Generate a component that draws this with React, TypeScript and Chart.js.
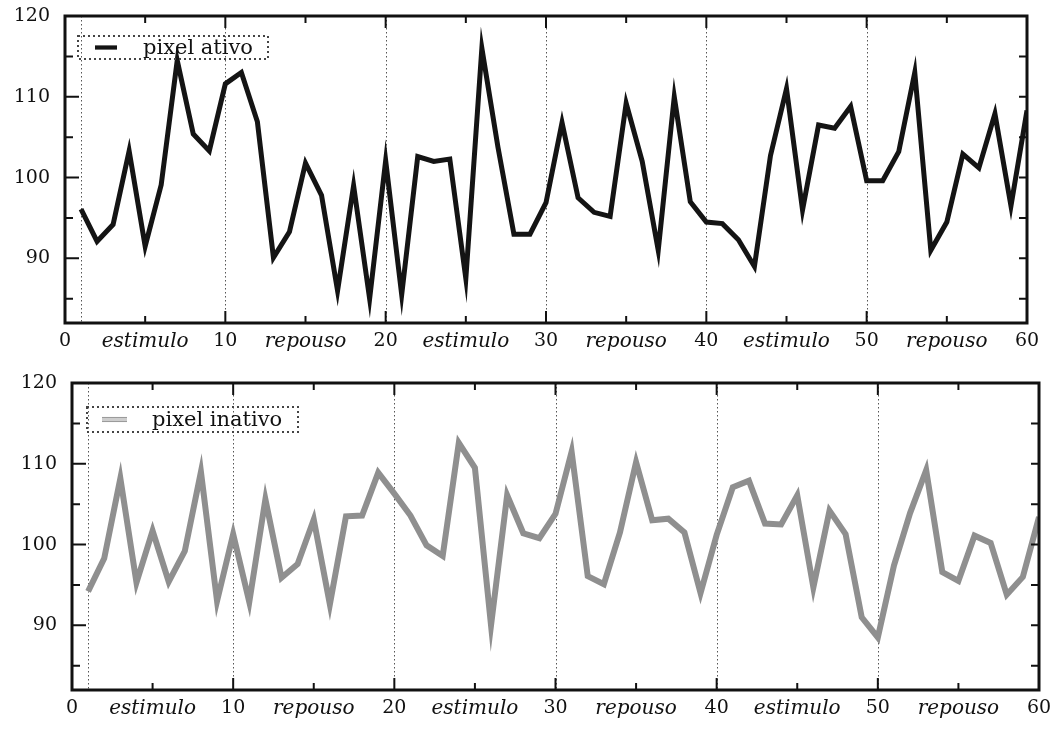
import React, { useEffect, useRef } from "react";
import { Chart, registerables } from "chart.js";

Chart.register(...registerables);

// ---- data ----
const samples = [
  1, 2, 3, 4, 5, 6, 7, 8, 9, 10, 11, 12, 13, 14, 15, 16, 17, 18, 19, 20,
  21, 22, 23, 24, 25, 26, 27, 28, 29, 30, 31, 32, 33, 34, 35, 36, 37, 38, 39, 40,
  41, 42, 43, 44, 45, 46, 47, 48, 49, 50, 51, 52, 53, 54, 55, 56, 57, 58, 59, 60,
];

const activePixel = [
  96.1, 92.1, 94.2, 103.3, 91.5, 99.1, 114.5, 105.4, 103.3, 111.6,
  113.0, 106.9, 90.1, 93.3, 101.8, 97.8, 86.0, 99.0, 85.0, 102.1,
  85.5, 102.6, 102.0, 102.3, 87.5, 116.0, 103.8, 93.0, 93.0, 96.9,
  106.8, 97.5, 95.7, 95.2, 109.2, 102.0, 91.0, 110.0, 97.0, 94.5,
  94.3, 92.3, 89.0, 102.7, 111.0, 96.0, 106.5, 106.1, 108.8, 99.6,
  99.6, 103.2, 113.0, 91.0, 94.5, 102.9, 101.2, 107.9, 96.5, 108.3,
];

const inactivePixel = [
  94.2, 98.3, 108.2, 95.3, 101.7, 95.4, 99.2, 109.0, 93.0, 101.3,
  92.9, 105.6, 95.9, 97.6, 103.1, 92.6, 103.5, 103.6, 108.9, 106.3,
  103.6, 99.9, 98.6, 112.6, 109.5, 90.0, 106.1, 101.4, 100.8, 103.8,
  111.5, 96.1, 95.1, 101.5, 110.2, 103.0, 103.2, 101.5, 94.0, 101.2,
  107.1, 107.9, 102.6, 102.5, 106.1, 94.7, 104.2, 101.3, 91.0, 88.5,
  97.4, 103.9, 109.2, 96.6, 95.5, 101.1, 100.2, 93.8, 96.0, 103.4,
];

const phaseLabels = ["estimulo", "repouso", "estimulo", "repouso", "estimulo", "repouso"];
const blockEdges = [1, 10, 20, 30, 40, 50];
const activeLabel = "pixel ativo";
const inactiveLabel = "pixel inativo";
const xBounds = [0, 60];
const yBounds = [82, 120];

const FONT = "'DejaVu Serif', 'Liberation Serif', serif";

const framePlugin = {
  id: "frame",
  beforeDatasetsDraw(chart: any) {
    const { ctx, chartArea } = chart;
    const xs = chart.scales.x;
    ctx.save();
    ctx.strokeStyle = "#555";
    ctx.lineWidth = 1;
    ctx.setLineDash([1.5, 2.5]);
    blockEdges.forEach((v) => {
      const px = Math.round(xs.getPixelForValue(v)) + 0.5;
      ctx.beginPath();
      ctx.moveTo(px, chartArea.top);
      ctx.lineTo(px, chartArea.bottom);
      ctx.stroke();
    });
    ctx.restore();
  },
  afterDraw(chart: any) {
    const { ctx, chartArea } = chart;
    const { left, right, top, bottom } = chartArea;
    const xs = chart.scales.x;
    const ys = chart.scales.y;
    ctx.save();
    ctx.strokeStyle = "#111";
    ctx.setLineDash([]);
    ctx.lineWidth = 2;
    xs.ticks.forEach((t: any) => {
      if (t.value === xBounds[0] || t.value === xBounds[1]) return;
      const px = xs.getPixelForValue(t.value);
      const len = t.value % 10 === 0 ? 12 : 7;
      ctx.beginPath();
      ctx.moveTo(px, bottom);
      ctx.lineTo(px, bottom - len);
      ctx.moveTo(px, top);
      ctx.lineTo(px, top + len);
      ctx.stroke();
    });
    ys.ticks.forEach((t: any) => {
      if (t.value >= yBounds[1]) return;
      const py = ys.getPixelForValue(t.value);
      const len = t.value % 10 === 0 ? 14 : 8;
      ctx.beginPath();
      ctx.moveTo(left, py);
      ctx.lineTo(left + len, py);
      ctx.moveTo(right, py);
      ctx.lineTo(right - 8, py);
      ctx.stroke();
    });
    ctx.lineWidth = 3;
    ctx.strokeRect(left, top, right - left, bottom - top);

    // boxed legend
    const o = chart.options.plugins.boxLegend;
    if (o) {
      const bx = left + o.dx;
      const by = top + o.dy;
      ctx.lineWidth = 2;
      ctx.strokeStyle = "#444";
      ctx.setLineDash([2, 3]);
      ctx.strokeRect(bx, by, o.w, o.h);
      ctx.setLineDash([]);
      const cy = by + o.h / 2;
      chart.data.datasets.forEach((ds: any) => {
        ctx.strokeStyle = ds.borderColor;
        ctx.lineWidth = ds.borderWidth * 0.85;
        ctx.beginPath();
        ctx.moveTo(bx + o.sx0, cy);
        ctx.lineTo(bx + o.sx1, cy);
        ctx.stroke();
      });
      ctx.font = `21px ${FONT}`;
      ctx.fillStyle = "#111";
      ctx.textBaseline = "middle";
      ctx.textAlign = "left";
      ctx.fillText(chart.data.datasets[0].label, bx + o.tx, cy + 1);
    }
    ctx.restore();
  },
};

function toPoints(values: number[]) {
  return values.map((v, i) => ({ x: samples[i], y: v }));
}

function makeConfig(datasets: any[], layout: any, legendBox: any) {
  return {
    type: "line",
    data: { datasets },
    plugins: [framePlugin],
    options: {
      animation: false,
      responsive: false,
      maintainAspectRatio: false,
      layout: { padding: { left: 0, right: layout.right, top: layout.top, bottom: 0 } },
      elements: { point: { radius: 0 }, line: { tension: 0 } },
      plugins: {
        legend: { display: false },
        tooltip: { enabled: false },
        boxLegend: legendBox,
      },
      scales: {
        x: {
          type: "linear",
          min: xBounds[0],
          max: xBounds[1],
          grid: { display: false, drawTicks: false },
          border: { display: false },
          afterFit: (scale: any) => {
            scale.height = layout.xHeight;
            scale.paddingLeft = 0;
            scale.paddingRight = 0;
          },
          ticks: {
            stepSize: 5,
            autoSkip: false,
            maxRotation: 0,
            minRotation: 0,
            padding: 7,
            color: "#111",
            font: (c: any) =>
              c.tick && c.tick.value % 10 !== 0
                ? { family: FONT, size: 20, style: "italic" }
                : { family: FONT, size: 19, style: "normal" },
            callback: (v: number) =>
              v % 10 === 0 ? String(v) : phaseLabels[Math.floor(v / 10)],
          },
        },
        y: {
          min: yBounds[0],
          max: yBounds[1],
          grid: { display: false, drawTicks: false },
          border: { display: false },
          afterFit: (scale: any) => {
            scale.width = layout.yWidth;
            scale.paddingTop = 0;
            scale.paddingBottom = 0;
          },
          ticks: {
            stepSize: 5,
            includeBounds: false,
            padding: 15,
            color: "#111",
            font: { family: FONT, size: 19 },
            callback: (v: number) => (v % 10 === 0 ? String(v) : ""),
          },
        },
      },
    },
  };
}

export default function App() {
  const topRef = useRef<HTMLCanvasElement | null>(null);
  const botRef = useRef<HTMLCanvasElement | null>(null);

  useEffect(() => {
    const lineBase = { pointRadius: 0, borderJoinStyle: "miter", fill: false };
    const c1 = new Chart(
      topRef.current as HTMLCanvasElement,
      makeConfig(
        [
          {
            ...lineBase,
            label: activeLabel,
            data: toPoints(activePixel),
            borderColor: "#141414",
            borderWidth: 5,
          },
        ],
        { right: 27, top: 16, xHeight: 37, yWidth: 65 },
        { dx: 13, dy: 20, w: 190, h: 23, sx0: 17, sx1: 39, tx: 65 }
      ) as any
    );
    const c2 = new Chart(
      botRef.current as HTMLCanvasElement,
      makeConfig(
        [
          {
            ...lineBase,
            label: inactiveLabel,
            data: toPoints(inactivePixel),
            borderColor: "#8f8f8f",
            borderWidth: 6,
          },
          {
            ...lineBase,
            label: inactiveLabel,
            data: toPoints(inactivePixel),
            borderColor: "#cdcdcd",
            borderWidth: 4,
          },
        ],
        { right: 15, top: 23, xHeight: 47, yWidth: 72 },
        { dx: 15, dy: 24, w: 211, h: 25, sx0: 15, sx1: 40, tx: 65 }
      ) as any
    );
    return () => {
      c1.destroy();
      c2.destroy();
    };
  }, []);

  return (
    <div style={{ position: "absolute", left: 0, top: 0, width: 1054, height: 737, background: "#fff" }}>
      <canvas ref={topRef} width={1054} height={360} style={{ position: "absolute", left: 0, top: 0, width: 1054, height: 360 }} />
      <canvas ref={botRef} width={1054} height={377} style={{ position: "absolute", left: 0, top: 360, width: 1054, height: 377 }} />
    </div>
  );
}
